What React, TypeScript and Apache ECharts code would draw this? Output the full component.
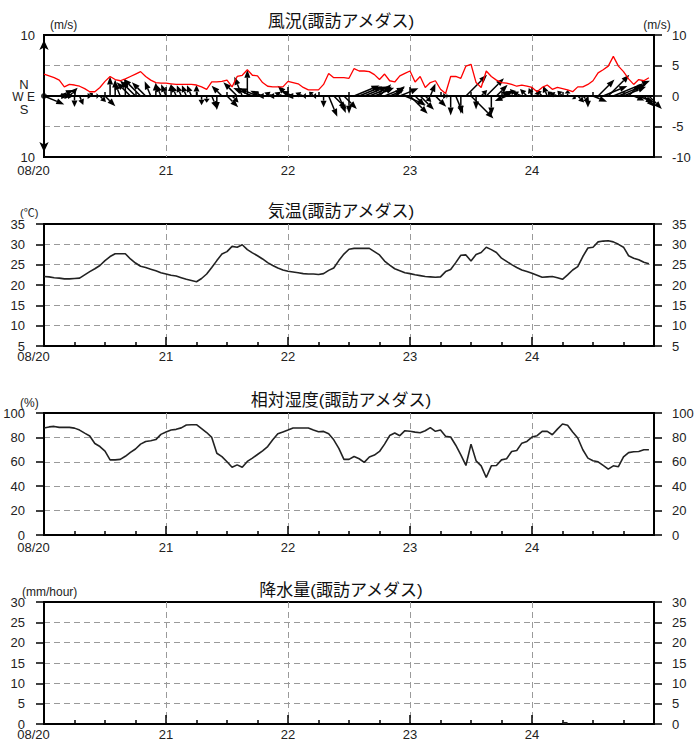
import React, { useEffect, useRef } from 'react';
import * as echarts from 'echarts';

// ---------- data (hourly, 08-20 00:00 .. 08-24 23:00) ----------
const dayLabels = ['08/20', '21', '22', '23', '24'];
const panelTitles = ['風況(諏訪アメダス)', '気温(諏訪アメダス)', '相対湿度(諏訪アメダス)', '降水量(諏訪アメダス)'];
const unitLabels = ['(m/s)', '(℃)', '(%)', '(mm/hour)'];

const temperature = [
  22.1, 22.0, 21.8, 21.7, 21.5, 21.5, 21.6, 21.7, 22.5, 23.3, 24.0, 24.8, 26.0, 27.0, 27.7, 27.7, 27.7, 26.4, 25.4, 24.6, 24.3, 23.9, 23.5, 23.0,
  22.7, 22.4, 22.2, 21.8, 21.4, 21.1, 20.8, 21.6, 22.7, 24.3, 26.0, 27.6, 28.2, 29.5, 29.3, 29.9, 28.7, 27.9, 27.2, 26.4, 25.5, 24.8, 24.2, 23.7,
  23.4, 23.2, 23.0, 22.8, 22.7, 22.7, 22.6, 22.8, 23.6, 24.2, 26.0, 27.6, 28.8, 29.0, 29.0, 29.0, 29.0, 28.2, 27.4, 25.9, 24.9, 24.0, 23.5, 23.0,
  22.8, 22.5, 22.3, 22.1, 22.0, 21.9, 22.0, 23.3, 23.8, 25.5, 27.3, 27.4, 25.9, 27.5, 28.0, 29.3, 28.7, 28.0, 26.6, 25.8, 25.0, 24.3, 23.7, 23.3,
  22.9, 22.4, 21.9, 22.0, 22.1, 21.8, 21.4, 22.5, 23.7, 24.5, 27.0, 29.1, 29.3, 30.6, 30.8, 30.9, 30.6, 30.0, 29.3, 27.2, 26.6, 26.2, 25.6, 25.2,
];

const humidity = [
  87.7, 88.6, 89.0, 88.2, 88.2, 88.2, 87.6, 86.0, 83.5, 81.2, 75.0, 72.5, 68.8, 61.6, 61.6, 62.0, 64.5, 67.7, 70.5, 74.5, 76.7, 77.2, 78.2, 82.5,
  84.5, 86.0, 86.6, 87.8, 90.2, 90.4, 90.4, 87.2, 84.0, 80.0, 67.0, 64.2, 60.0, 55.5, 57.5, 55.5, 60.3, 63.0, 66.0, 69.0, 72.5, 78.0, 83.0, 84.5,
  86.0, 87.7, 87.7, 87.7, 87.7, 86.0, 84.6, 84.9, 83.0, 78.0, 71.0, 62.0, 62.0, 64.4, 62.5, 59.5, 64.0, 65.5, 68.5, 74.5, 81.5, 83.6, 81.4, 85.5,
  85.0, 84.3, 83.8, 85.5, 88.0, 85.0, 86.0, 81.0, 80.3, 73.6, 65.6, 57.0, 74.5, 60.8, 56.7, 47.1, 56.7, 57.0, 61.6, 62.5, 68.5, 69.3, 75.3, 76.7,
  80.3, 81.4, 84.9, 84.9, 82.2, 86.8, 91.0, 89.9, 84.4, 79.5, 69.9, 63.0, 60.8, 60.0, 57.0, 54.0, 56.7, 56.0, 64.0, 67.5, 68.2, 68.5, 69.9, 69.9,
];

const windSpeed = [
  3.6, 3.3, 3.0, 2.6, 1.5, 1.9, 1.8, 1.6, 1.2, 0.7, 0.7, 1.4, 2.4, 3.2, 2.7, 2.5, 2.8, 3.2, 3.6, 4.0, 3.2, 2.6, 2.2, 2.1,
  2.1, 2.0, 1.9, 1.9, 1.9, 1.9, 1.8, 1.5, 1.1, 2.3, 2.3, 2.4, 2.6, 1.5, 3.2, 3.4, 4.3, 3.4, 3.3, 2.2, 1.6, 1.5, 1.5, 1.5,
  2.4, 2.2, 2.0, 1.4, 1.0, 1.0, 1.0, 1.9, 3.7, 3.0, 3.0, 3.0, 2.9, 4.5, 4.1, 4.1, 4.0, 3.5, 2.7, 3.6, 2.5, 2.3, 3.3, 3.7,
  4.1, 2.3, 3.2, 1.4, 2.2, 2.5, 1.1, 0.4, 3.2, 3.2, 2.9, 4.9, 5.2, 2.2, 1.4, 4.1, 3.2, 2.6, 2.2, 2.1, 1.9, 1.6, 1.8, 1.6,
  1.4, 0.7, 1.4, 1.8, 1.1, 1.4, 1.2, 1.0, 0.7, 1.5, 1.5, 1.9, 2.5, 3.8, 4.3, 4.9, 6.5, 4.9, 4.0, 2.8, 1.9, 2.7, 2.5, 3.0,
];

// wind direction (where the wind blows from), 16 points
const windFrom = [
  'WNW', 'W', 'W', 'WSW', 'W', 'SW', 'N', 'NNW', 'W', 'SW', 'W', 'NW', 'NW', 'S', 'S', 'SSE', 'S', 'SE', 'SE', 'SE', 'SE', 'SSE', 'S', 'SSE',
  'SSE', 'S', 'SSE', 'SSE', 'SSE', 'SSE', 'S', 'N', 'N', 'NNW', 'N', 'SE', 'NW', 'NW', 'SE', 'SSE', 'S', 'ESE', 'ESE', 'ESE', 'E', 'ESE', 'E', 'ESE',
  'SE', 'ESE', 'E', 'ESE', 'E', 'SE', 'E', 'N', 'NNW', 'NW', 'NNW', 'NW', 'N', 'WSW', 'WSW', 'WSW', 'WSW', 'WSW', 'SW', 'WSW', 'WSW', 'SW', 'WSW', 'WNW',
  'NW', 'NW', 'NW', 'NW', 'SSW', 'NW', 'W', 'W', 'N', 'NNW', 'N', 'SW', 'NW', 'N', 'SW', 'SW', 'N', 'SW', 'WSW', 'ENE', 'ESE', 'SE', 'ESE', 'SE',
  'SSE', 'S', 'SE', 'SSE', 'SE', 'ESE', 'SE', 'S', 'NW', 'NW', 'NW', 'N', 'WNW', 'SW', 'WSW', 'SW', 'WSW', 'WSW', 'WSW', 'SW', 'WNW', 'WNW', 'NW', 'NW',
];

// precipitation: hour index -> mm (all other hours 0)
const precipHours = [102];
const precipMm = [0.5];

const compass16 = ['N', 'NNE', 'NE', 'ENE', 'E', 'ESE', 'SE', 'SSE', 'S', 'SSW', 'SW', 'WSW', 'W', 'WNW', 'NW', 'NNW'];

// ---------- layout ----------
const FONT = "'Liberation Sans', 'Noto Sans CJK JP', sans-serif";
const PANEL_TOPS = [35, 224, 413, 602];
const PANEL_H = 122;
const PLOT_LEFT = 44;
const PLOT_W = 610;
const X_LABEL_MARGIN = [8, 5, 7, 5];
const TITLE_TOPS = [13, 203, 392, 582];
const LABEL_COLOR = '#222';
const GRID_COLOR = '#9a9a9a';

function buildOption() {
  const grids = PANEL_TOPS.map((top) => ({
    left: PLOT_LEFT, top, width: PLOT_W, height: PANEL_H,
    show: true, borderColor: '#000', borderWidth: 2, backgroundColor: 'transparent',
  }));

  const xAxes = PANEL_TOPS.map((_, gi) => ({
    type: 'value', gridIndex: gi, min: 0, max: 120, interval: 24,
    axisLine: { lineStyle: { color: '#000', width: 2 } },
    axisTick: { inside: true, length: 9, lineStyle: { color: '#000', width: 1.5 } },
    minorTick: { show: true, splitNumber: 4, length: 4, lineStyle: { color: '#000', width: 1.5 } },
    splitLine: { show: true, showMinLine: false, showMaxLine: false, lineStyle: { color: GRID_COLOR, type: [6, 4], width: 1 } },
    axisLabel: {
      margin: X_LABEL_MARGIN[gi], fontSize: 13, lineHeight: 10, color: LABEL_COLOR, fontFamily: FONT,
      formatter: (v: number) => {
        const i = Math.round(v / 24);
        const s = dayLabels[i] ?? '';
        return i === 0 ? `{first|${s}}` : s;
      },
      rich: { first: { padding: [0, 21, 0, 0], fontSize: 13, lineHeight: 10, color: LABEL_COLOR, fontFamily: FONT } },
    },
  }));

  const yRanges = [
    { min: -10, max: 10, interval: 5 },
    { min: 5, max: 35, interval: 5 },
    { min: 0, max: 100, interval: 20 },
    { min: 0, max: 30, interval: 5 },
  ];

  const dashed = { show: true, showMinLine: false, showMaxLine: false, lineStyle: { color: GRID_COLOR, type: [6, 4], width: 1 } };

  const yAxes: any[] = [];
  yRanges.forEach((r, gi) => {
    const common = {
      type: 'value', gridIndex: gi, min: r.min, max: r.max,
      axisLine: { show: true, lineStyle: { color: '#000', width: 2 } },
      axisTick: { show: true, inside: false, length: 8, lineStyle: { color: '#000', width: 1.5 } },
      axisLabel: { fontSize: 13, lineHeight: 10, color: LABEL_COLOR, fontFamily: FONT },
    };
    if (gi === 0) {
      yAxes.push({
        ...common, position: 'left', interval: 10,
        axisLine: { show: true, symbol: ['arrow', 'arrow'], symbolSize: [7, 10], symbolOffset: [5, -5], lineStyle: { color: '#000', width: 2 } },
        axisTick: { show: false },
        axisLabel: { ...common.axisLabel, margin: 9, formatter: (v: number) => (Math.abs(v) === 10 ? '10' : '') },
        splitLine: { show: false },
      });
    } else {
      yAxes.push({
        ...common, position: 'left', interval: r.interval,
        axisLabel: { ...common.axisLabel, margin: 19 },
        splitLine: dashed,
      });
    }
    yAxes.push({
      ...common, position: 'right', interval: r.interval,
      axisLabel: { ...common.axisLabel, margin: 18 },
      splitLine: gi === 0 ? dashed : { show: false },
    });
  });

  const windVectors = windSpeed.map((s, i) => {
    const to = ((compass16.indexOf(windFrom[i]) * 22.5 + 180) * Math.PI) / 180;
    return [i, s * Math.sin(to), s * Math.cos(to)];
  });

  const precipData = precipHours.map((h, k) => [h + 0.5, precipMm[k]]);

  const series: any[] = [
    {
      type: 'custom', name: 'wind', xAxisIndex: 0, yAxisIndex: 0, clip: false, z: 2,
      data: windVectors,
      encode: { x: 0, y: 1 },
      renderItem: (_params: any, api: any) => {
        const h = api.value(0);
        const u = api.value(1);
        const v = api.value(2);
        const p0 = api.coord([h, 0]);
        const ppu = api.size([0, 1])[1];
        const x1 = p0[0] + u * ppu;
        const y1 = p0[1] - v * ppu;
        const dx = x1 - p0[0];
        const dy = y1 - p0[1];
        const len = Math.hypot(dx, dy);
        if (len < 0.5) return null;
        const ux = dx / len;
        const uy = dy / len;
        const hl = Math.min(8, len * 0.6);
        const hw = 3;
        const bx = x1 - ux * hl;
        const by = y1 - uy * hl;
        return {
          type: 'group',
          children: [
            { type: 'line', shape: { x1: p0[0], y1: p0[1], x2: bx, y2: by }, style: { stroke: '#000', lineWidth: 1.5 } },
            {
              type: 'polygon',
              shape: { points: [[x1, y1], [bx - uy * hw, by + ux * hw], [bx + uy * hw, by - ux * hw]] },
              style: { fill: '#000' },
            },
          ],
        };
      },
    },
    {
      type: 'line', name: 'speed', xAxisIndex: 0, yAxisIndex: 0, z: 3,
      data: windSpeed.map((s, i) => [i, s]),
      symbol: 'none', lineStyle: { color: '#ff0000', width: 1.3 }, itemStyle: { color: '#ff0000' },
    },
    {
      type: 'scatter', xAxisIndex: 0, yAxisIndex: 0, z: 4,
      data: [[0, 0]], symbolSize: 6, itemStyle: { color: '#000' },
    },
    {
      type: 'line', name: 'temperature', xAxisIndex: 1, yAxisIndex: 2,
      data: temperature.map((t, i) => [i, t]),
      symbol: 'none', lineStyle: { color: '#222', width: 1.6 },
    },
    {
      type: 'line', name: 'humidity', xAxisIndex: 2, yAxisIndex: 4,
      data: humidity.map((t, i) => [i, t]),
      symbol: 'none', lineStyle: { color: '#222', width: 1.6 },
    },
    {
      type: 'bar', name: 'precipitation', xAxisIndex: 3, yAxisIndex: 6,
      data: precipData, barWidth: 5, itemStyle: { color: '#222' },
    },
  ];

  const txt = (text: string, x: number, y: number, align: string, size: number) => ({
    type: 'text', x, y, silent: true,
    style: {
      text, fill: LABEL_COLOR, font: `${size}px ${FONT}`,
      textAlign: align, textVerticalAlign: 'middle', align, verticalAlign: 'middle',
    },
  });

  const graphic = [
    txt(unitLabels[0], 50, 25, 'left', 12),
    txt(unitLabels[0], 657, 25, 'center', 12),
    txt(unitLabels[1], 20, 213, 'left', 11),
    txt(unitLabels[2], 20, 403, 'left', 12),
    txt(unitLabels[3], 22, 592, 'left', 12),
    txt('N', 24, 84, 'center', 13),
    txt('W E', 35, 96.5, 'right', 12),
    txt('S', 24, 109, 'center', 13),
  ];

  return {
    animation: false,
    backgroundColor: '#fff',
    textStyle: { fontFamily: FONT },
    title: panelTitles.map((t, i) => ({
      text: t, left: 341, top: TITLE_TOPS[i], textAlign: 'center', padding: 0,
      textStyle: { fontSize: 17, fontWeight: 'normal', color: '#111', fontFamily: FONT },
    })),
    grid: grids,
    xAxis: xAxes,
    yAxis: yAxes,
    series,
    graphic,
  };
}

export default function App() {
  const ref = useRef<HTMLDivElement>(null);
  useEffect(() => {
    if (!ref.current) return;
    const chart = echarts.init(ref.current, undefined, { renderer: 'svg' });
    chart.setOption(buildOption() as any);
    return () => chart.dispose();
  }, []);
  return <div ref={ref} style={{ position: 'absolute', left: 0, top: 0, width: 697, height: 742 }} />;
}
